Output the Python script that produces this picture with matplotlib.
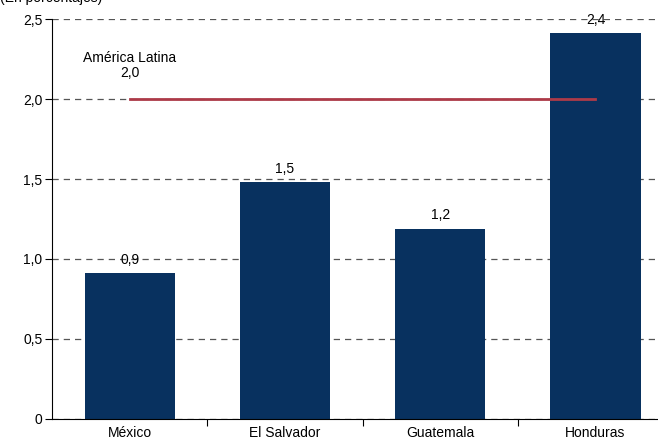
import matplotlib.pyplot as plt
from matplotlib.ticker import FuncFormatter

plt.rcParams["font.family"] = ["Liberation Sans", "DejaVu Sans"]

countries = ["México", "El Salvador", "Guatemala", "Honduras"]
values = [0.91, 1.48, 1.19, 2.41]
value_labels = ["0,9", "1,5", "1,2", "2,4"]
latam_value = 2.0
latam_label = "América Latina\n2,0"

bar_color = "#08315f"
line_color = "#ad3a48"

fig = plt.figure(figsize=(6.58, 4.41), dpi=100)
ax = fig.add_axes([0.079, 0.0499, 0.944, 0.907])

x = list(range(len(countries)))
ax.set_axisbelow(True)
ax.yaxis.grid(True, linestyle=(0, (5, 4)), color="#555555", linewidth=0.9)
bars = ax.bar(x, values, width=0.58, color=bar_color, zorder=2)

for bar, lab in zip(bars, value_labels):
    ax.text(bar.get_x() + bar.get_width() / 2, bar.get_height() + 0.04, lab,
            ha="center", va="bottom", fontsize=10)

ax.plot([x[0], x[-1]], [latam_value, latam_value], color=line_color,
        linewidth=2, zorder=3)
ax.text(x[0], latam_value + 0.12, latam_label, ha="center", va="bottom",
        fontsize=10, linespacing=1.1)

ax.set_xlim(-0.5, 3.5)
ax.set_ylim(0, 2.5)
ax.set_yticks([0, 0.5, 1.0, 1.5, 2.0, 2.5])
ax.yaxis.set_major_formatter(
    FuncFormatter(lambda v, p: "0" if v == 0 else f"{v:.1f}".replace(".", ",")))
ax.set_xticks([0.5, 1.5, 2.5])
ax.set_xticklabels([])
ax.set_xticks(x, minor=True)
ax.set_xticklabels(countries, minor=True)
ax.tick_params(axis="x", which="minor", length=0, labelsize=10, pad=5)
ax.tick_params(axis="x", which="major", length=5, direction="out")
ax.tick_params(axis="y", length=5, direction="out", labelsize=10, pad=2)

for side in ["top", "right"]:
    ax.spines[side].set_visible(False)
ax.spines["left"].set_color("black")
ax.spines["bottom"].set_color("black")

# header sits partly above the canvas, as in the source image
fig.text(0.0, 1.005, "(En porcentajes)", ha="left", va="center", fontsize=10)

fig.savefig("out.png", dpi=100)
